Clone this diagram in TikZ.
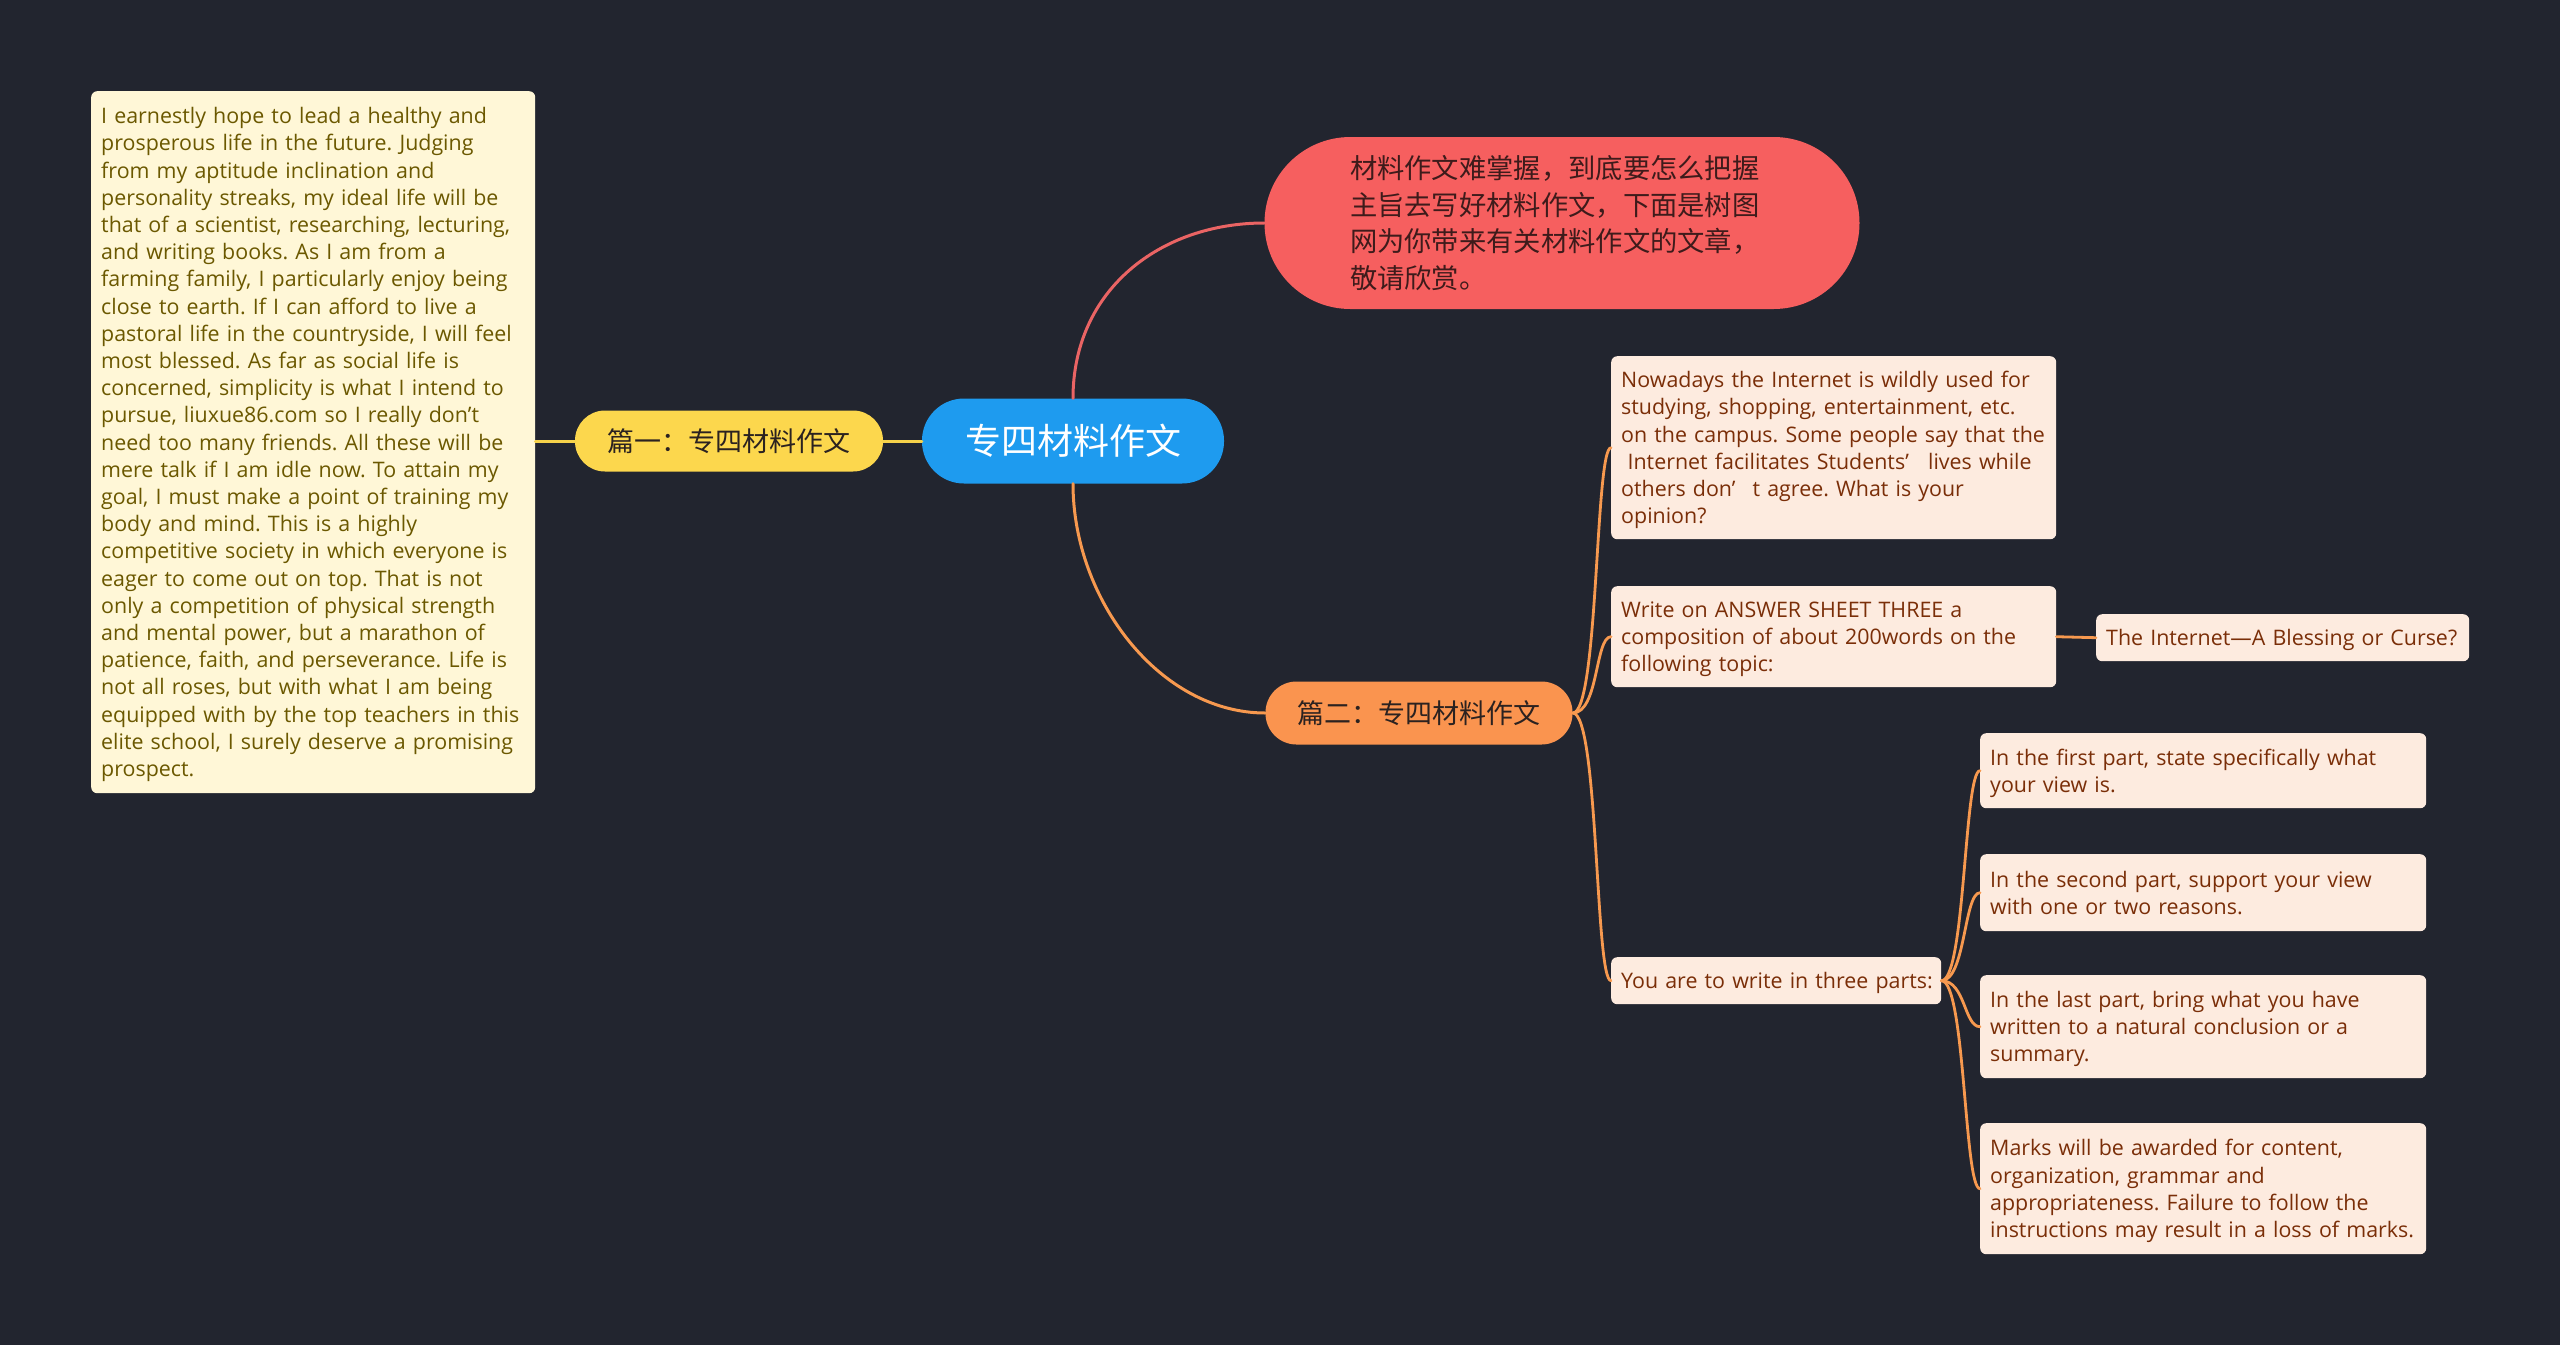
\documentclass[tikz,border=0pt]{standalone}
\usepackage{fontspec}
\setmainfont{Open Sans}
\newfontfamily\cjk{Noto Sans CJK SC}
\definecolor{bg}{HTML}{22252F}
\definecolor{bluefill}{HTML}{1E9BEF}
\definecolor{yellowfill}{HTML}{FCD74D}
\definecolor{redfill}{HTML}{F65F5F}
\definecolor{orangefill}{HTML}{FA944F}
\definecolor{leaffill}{HTML}{FDEBDF}
\definecolor{leaftext}{HTML}{7A2E08}
\definecolor{creamfill}{HTML}{FFF7D7}
\definecolor{creamtext}{HTML}{6B5800}
\definecolor{darktext}{HTML}{2B2220}
\definecolor{redtext}{HTML}{3E1B1B}
\definecolor{yline}{HTML}{F6D24A}
\definecolor{rline}{HTML}{EA6464}
\definecolor{oline}{HTML}{F7994F}
\newcommand\txtlines[1]{\raisebox{-2.5pt}[\height][\depth]{\begin{tabular}{@{}l@{}}#1\end{tabular}}}
\frenchspacing
\begin{document}
\begin{tikzpicture}[x=1pt,y=-1pt,
  leaf/.style={fill=leaffill, text=leaftext, rounded corners=6pt, anchor=north west,
    align=left, inner xsep=10pt, inner ysep=0pt, font=\fontsize{21.4}{27.2}\selectfont\frenchspacing},
  pill/.style={inner sep=0pt, font=\cjk},
  mainconn/.style={line width=3pt, line cap=round},
  childconn/.style={line width=2.8pt, line cap=round, draw=oline}
]
\useasboundingbox (0,0) rectangle (2560,1345);
\fill[bg] (0,0) rectangle (2560,1345);

% central and main branches
\node[pill, fill=bluefill, text=white, rounded corners=42pt, minimum width=302pt, minimum height=85pt,
  font=\cjk\fontsize{36}{40}\selectfont] (center) at (1073,441) {专四材料作文};
\node[pill, fill=yellowfill, text=darktext, rounded corners=30pt, minimum width=308pt, minimum height=61pt,
  font=\cjk\fontsize{27}{30}\selectfont] (b1) at (729,441) {篇一：专四材料作文};
\node[pill, fill=orangefill, text=darktext, rounded corners=31pt, minimum width=307pt, minimum height=63pt,
  font=\cjk\fontsize{27}{30}\selectfont] (b2) at (1419,713) {篇二：专四材料作文};
\node[pill, fill=redfill, text=redtext, rounded corners=85.9pt, minimum width=595pt, minimum height=172pt,
  text width=424pt, align=left, font=\cjk\fontsize{27.3}{36.5}\selectfont] (intro) at (1562,223)
  {材料作文难掌握，到底要怎么把握\\主旨去写好材料作文，下面是树图\\网为你带来有关材料作文的文章，\\敬请欣赏。};

% left essay
\node[leaf, fill=creamfill, text=creamtext, minimum width=444pt, minimum height=702pt, text width=424pt] (essay) at (91,91)
 {\txtlines{I earnestly hope to lead a healthy and\\
  prosperous life in the future. Judging\\
  from my aptitude inclination and\\
  personality streaks, my ideal life will be\\
  that of a scientist, researching, lecturing,\\
  and writing books. As I am from a\\
  farming family, I particularly enjoy being\\
  close to earth. If I can afford to live a\\
  pastoral life in the countryside, I will feel\\
  most blessed. As far as social life is\\
  concerned, simplicity is what I intend to\\
  pursue, liuxue86.com so I really don{\char"0027}t\\
  need too many friends. All these will be\\
  mere talk if I am idle now. To attain my\\
  goal, I must make a point of training my\\
  body and mind. This is a highly\\
  competitive society in which everyone is\\
  eager to come out on top. That is not\\
  only a competition of physical strength\\
  and mental power, but a marathon of\\
  patience, faith, and perseverance. Life is\\
  not all roses, but with what I am being\\
  equipped with by the top teachers in this\\
  elite school, I surely deserve a promising\\
  prospect.}};

% right leaves
\node[leaf, minimum width=445pt, minimum height=183pt, text width=425pt] (n1) at (1611,356)
 {\txtlines{Nowadays the Internet is wildly used for\\
  studying, shopping, entertainment, etc.\\
  on the campus. Some people say that the\\
  \hspace*{0.3em}Internet facilitates Students’\hspace{0.9em}lives while\\
  others don’\hspace{0.8em}t agree. What is your\\
  opinion?}};
\node[leaf, minimum width=445pt, minimum height=101pt, text width=425pt] (w) at (1611,586)
 {\txtlines{Write on ANSWER SHEET THREE a\\
  composition of about 200words on the\\
  following topic:}};
\node[leaf, minimum width=373pt, minimum height=47pt, text width=353pt] (t) at (2096,614)
 {\txtlines{The Internet—A Blessing or Curse?}};
\node[leaf, minimum width=330pt, minimum height=47pt, text width=310pt] (y) at (1611,957)
 {\txtlines{You are to write in three parts:}};
\node[leaf, minimum width=446pt, minimum height=75pt, text width=426pt] (p1) at (1980,733)
 {\txtlines{In the first part, state specifically what\\your view is.}};
\node[leaf, minimum width=446pt, minimum height=77pt, text width=426pt] (p2) at (1980,854)
 {\txtlines{In the second part, support your view\\with one or two reasons.}};
\node[leaf, minimum width=446pt, minimum height=103pt, text width=426pt] (p3) at (1980,975)
 {\txtlines{In the last part, bring what you have\\written to a natural conclusion or a\\summary.}};
\node[leaf, minimum width=446pt, minimum height=131pt, text width=426pt] (p4) at (1980,1123)
 {\txtlines{Marks will be awarded for content,\\organization, grammar and\\appropriateness. Failure to follow the\\instructions may result in a loss of marks.}};

% connectors
\draw[mainconn, draw=yline] (center.west) -- (b1.east);
\draw[mainconn, draw=yline] (b1.west) -- (essay.east |- b1.west);
\draw[mainconn, draw=rline] (center.north) .. controls (1073,290) and (1160,223) .. (intro.west);
\draw[mainconn, draw=oline] (center.south) .. controls (1073,600) and (1160,713) .. (b2.west);

\draw[childconn] (b2.east) .. controls +(26,0) and +(-16,0) .. (n1.west);
\draw[childconn] (b2.east) .. controls +(26,0) and +(-16,0) .. (w.west);
\draw[childconn] (b2.east) .. controls +(26,0) and +(-16,0) .. (y.west);
\draw[childconn] (w.east) -- (t.west);

\draw[childconn] (y.east) .. controls +(24,0) and +(-16,0) .. (p1.west);
\draw[childconn] (y.east) .. controls +(24,0) and +(-16,0) .. (p2.west);
\draw[childconn] (y.east) .. controls +(24,0) and +(-16,0) .. (p3.west);
\draw[childconn] (y.east) .. controls +(24,0) and +(-16,0) .. (p4.west);
\end{tikzpicture}
\end{document}
